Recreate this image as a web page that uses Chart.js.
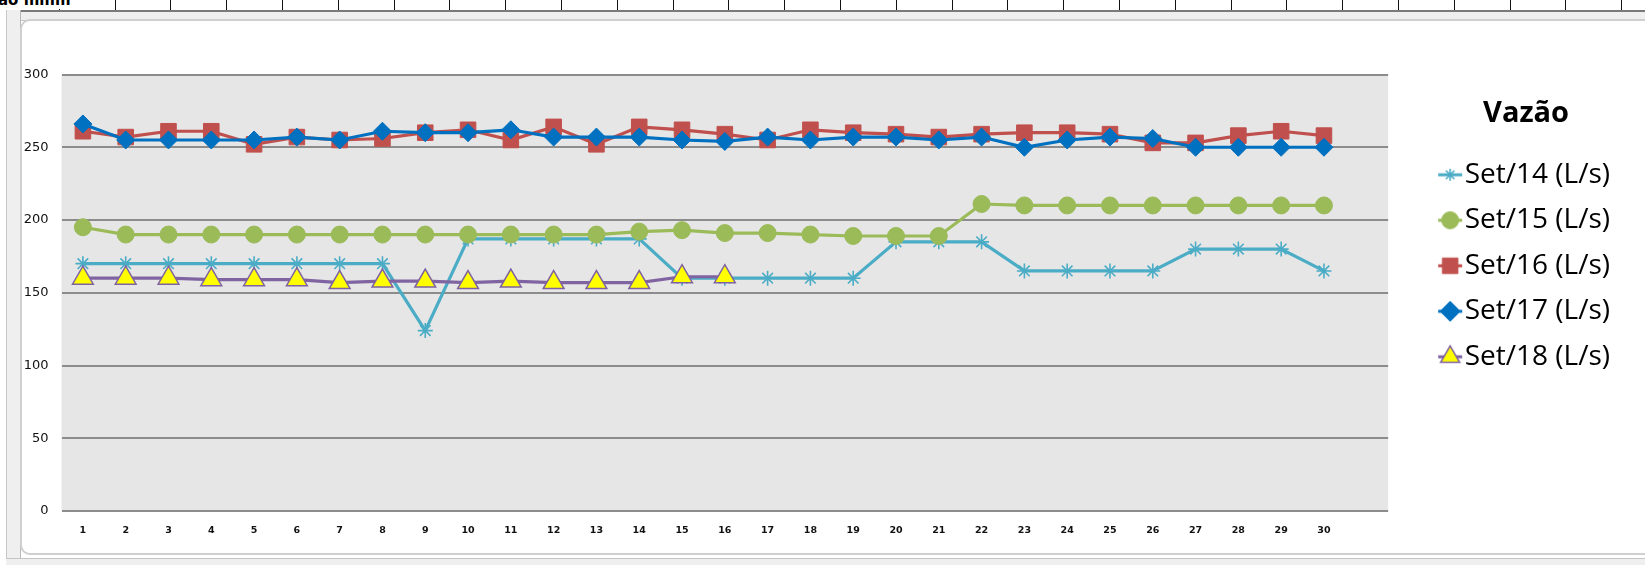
<!DOCTYPE html>
<html lang="pt">
<head>
<meta charset="utf-8">
<title>Vazão</title>
<script src="https://cdn.jsdelivr.net/npm/chart.js@4.4.1/dist/chart.umd.min.js"></script>
<style>
  html, body { margin: 0; padding: 0; background: #ffffff; overflow: hidden; }
  #stage { position: relative; width: 1645px; height: 565px; overflow: hidden; background: #ffffff; }
  /* worksheet ruler strip above the embedded chart */
  #ruler { position: absolute; left: 0; top: 0; width: 1645px; height: 10px;
    background: repeating-linear-gradient(to right, transparent 0, transparent 54.8px, #111 54.8px, #111 55.8px);
    background-position: 4px 0; }
  #rulerText { position: absolute; left: -2px; top: -9px; font: bold 15px "DejaVu Sans", sans-serif; color: #000; background: #fff; padding-right: 4px; }
  #topBand { position: absolute; left: 6px; top: 10px; width: 1645px; height: 8px; background: #efefef;
    border-top: 2px solid #7a7a7a; border-bottom: 1px solid #c4c4c4; }
  #leftBand { position: absolute; left: 6px; top: 10px; width: 13px; height: 555px; background: #efefef;
    border-left: 1px solid #c8c8c8; border-right: 1px solid #b9b9b9; }
  #bottomBand { position: absolute; left: 6px; top: 558px; width: 1645px; height: 7px; background: #efefef; border-top: 1px solid #c4c4c4; }
  #frame { position: absolute; left: 20px; top: 19px; width: 1640px; height: 536px; background: #fff;
    border: 2px solid #cfcfcf; border-radius: 10px; box-sizing: border-box; }
  #chart { position: absolute; left: 0; top: 0; }
</style>
</head>
<body>
<div id="stage">
  <div id="ruler"></div>
  <div id="rulerText">ao mmm</div>
  <div id="topBand"></div>
  <div id="leftBand"></div>
  <div id="bottomBand"></div>
  <div id="frame"></div>
  <canvas id="chart" width="1645" height="565"></canvas>
</div>
<script>
// Days of September (the 31st slot stays empty on the category axis)
const dias = ['1','2','3','4','5','6','7','8','9','10','11','12','13','14','15',
              '16','17','18','19','20','21','22','23','24','25','26','27','28','29','30',''];

// Flow (L/s) per day, one list per year
const set14 = [170,170,170,170,170,170,170,170,124,187,187,187,187,187,160,
               160,160,160,160,185,185,185,165,165,165,165,180,180,180,165];
const set15 = [195,190,190,190,190,190,190,190,190,190,190,190,190,192,193,
               191,191,190,189,189,189,211,210,210,210,210,210,210,210,210];
const set16 = [261,257,261,261,252,257,255,256,260,262,255,264,252,264,262,
               259,255,262,260,259,257,259,260,260,259,253,253,258,261,258];
const set17 = [266,255,255,255,255,257,255,261,260,260,262,257,257,257,255,
               254,257,255,257,257,255,257,250,255,257,256,250,250,250,250];
const set18 = [160,160,160,159,159,159,157,158,158,157,158,157,157,157,161,161];

const yTicks = [0, 50, 100, 150, 200, 250, 300];
const legendTitle = 'Vazão';

const series = [
  { label: 'Set/14 (L/s)', data: set14, color: '#4BACC6', fill: '#4BACC6', edge: '#4BACC6', style: 'star',     radius: 7.5, edgeW: 1.6, legendR: 6 },
  { label: 'Set/15 (L/s)', data: set15, color: '#9BBB59', fill: '#9BBB59', edge: '#9BBB59', style: 'circle',   radius: 8.5, edgeW: 1, legendR: 8.5 },
  { label: 'Set/16 (L/s)', data: set16, color: '#C0504D', fill: '#C0504D', edge: '#C0504D', style: 'rect',     radius: 11, edgeW: 1, legendR: 11 },
  { label: 'Set/17 (L/s)', data: set17, color: '#0070C0', fill: '#0070C0', edge: '#0070C0', style: 'rectRot',  radius: 9, edgeW: 1, legendR: 10 },
  { label: 'Set/18 (L/s)', data: set18, color: '#8064A2', fill: '#FFFF00', edge: '#7F62A1', style: 'triangle', radius: 12, edgeW: 1.5, legendR: 11 }
];

// Legend swatch: short line segment with the series marker on top
function legendIcon(s) {
  const c = document.createElement('canvas');
  c.width = 40; c.height = 30;
  const g = c.getContext('2d');
  const cx = 20, cy = 15;
  g.strokeStyle = s.color;
  g.lineWidth = 3;
  g.beginPath(); g.moveTo(cx - 12, cy); g.lineTo(cx + 12, cy); g.stroke();
  g.fillStyle = s.fill;
  g.strokeStyle = s.edge;
  g.lineWidth = s.edgeW;
  Chart.helpers.drawPoint(g, { pointStyle: s.style, radius: s.legendR, rotation: 0, borderWidth: s.edgeW }, cx, cy);
  return c;
}

// Light grey plot-area fill
const plotFill = {
  id: 'plotFill',
  beforeDraw(chart) {
    const a = chart.chartArea, ctx = chart.ctx;
    ctx.save();
    ctx.fillStyle = '#E6E6E6';
    ctx.fillRect(a.left, a.top, a.right - a.left, a.bottom - a.top);
    ctx.restore();
  }
};

const datasets = series.map((s, i) => ({
  label: s.label,
  data: s.data,
  borderColor: s.color,
  backgroundColor: s.fill,
  borderWidth: 3.2,
  tension: 0,
  pointStyle: s.style,
  pointRadius: s.radius,
  pointHoverRadius: s.radius,
  pointBackgroundColor: s.fill,
  pointBorderColor: s.edge,
  pointBorderWidth: s.edgeW,
  order: series.length - i
}));

new Chart(document.getElementById('chart'), {
  type: 'line',
  data: { labels: dias, datasets },
  plugins: [plotFill],
  options: {
    responsive: false,
    animation: false,
    devicePixelRatio: 1,
    layout: { padding: { left: 21.5, right: 25, top: 74.5, bottom: 14 } },
    scales: {
      x: {
        type: 'category',
        offset: true,
        grid: { display: false, drawTicks: false },
        border: { display: false },
        ticks: {
          autoSkip: false, maxRotation: 0, minRotation: 0, padding: 13.6,
          color: '#111', font: { family: 'DejaVu Sans', size: 9.5, weight: 'bold' }
        },
        afterFit(s) { s.height = 40; }
      },
      y: {
        min: yTicks[0], max: yTicks[yTicks.length - 1],
        afterBuildTicks(s) { s.ticks = yTicks.map(v => ({ value: v })); },
        grid: { color: '#8c8c8c', lineWidth: 2, drawTicks: false },
        border: { display: false },
        ticks: { padding: 13, color: '#111', font: { family: 'DejaVu Sans', size: 13 } },
        afterFit(s) { s.width = 40; }
      },
      gap: {
        type: 'linear',
        position: 'right',
        display: true,
        grid: { display: false, drawTicks: false },
        border: { display: false },
        ticks: { display: false },
        afterFit(s) { s.width = 44; }
      }
    },
    plugins: {
      tooltip: { enabled: false },
      legend: {
        position: 'right',
        align: 'start',
        title: {
          display: true,
          text: legendTitle,
          color: '#000',
          font: { family: 'Open Sans', size: 29, weight: 'bold' },
          padding: { top: 25, bottom: 9 }
        },
        labels: {
          usePointStyle: true,
          boxWidth: 1,
          padding: 17.5,
          color: '#000',
          font: { family: 'Open Sans', size: 28 },
          generateLabels(chart) {
            return chart.data.datasets.map((ds, i) => ({
              text: ds.label,
              fillStyle: ds.pointBackgroundColor,
              strokeStyle: ds.borderColor,
              lineWidth: 0,
              pointStyle: legendIcon(series[i]),
              hidden: !chart.isDatasetVisible(i),
              datasetIndex: i,
              fontColor: '#000'
            }));
          }
        }
      }
    }
  }
});
</script>
</body>
</html>
